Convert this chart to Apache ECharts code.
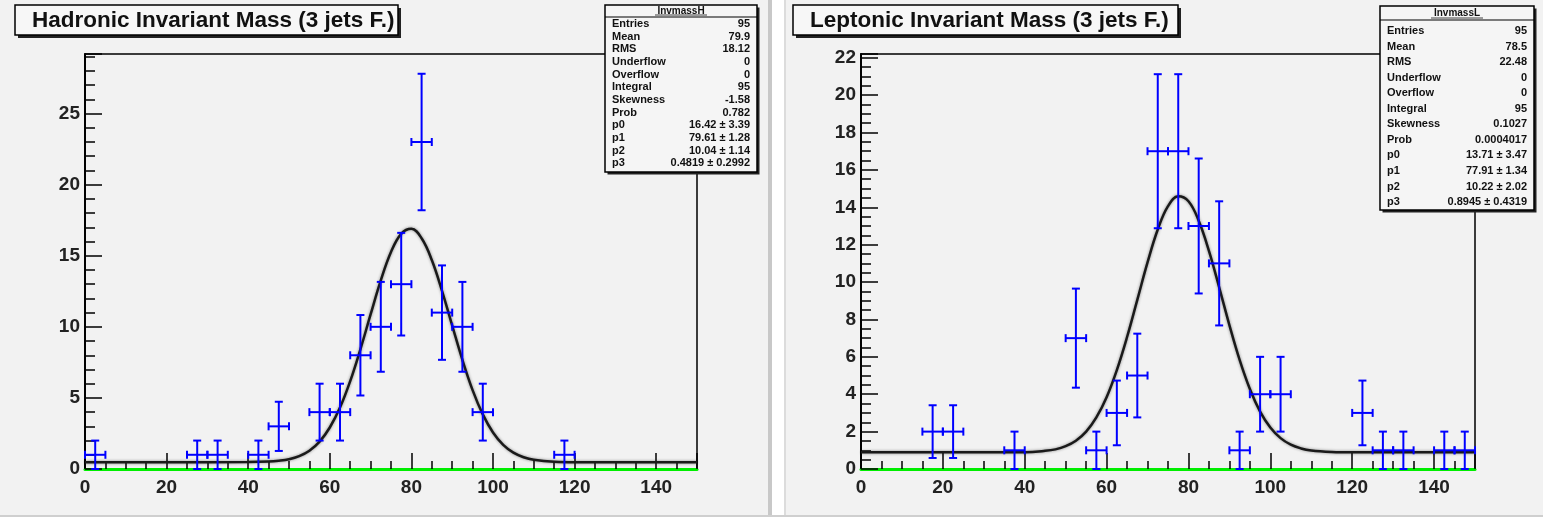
<!DOCTYPE html>
<html>
<head>
<meta charset="utf-8">
<title>Invariant Mass (3 jets F.)</title>
<script src="https://cdn.jsdelivr.net/npm/echarts@6/dist/echarts.min.js"></script>
<style>
  html, body { margin: 0; padding: 0; background: #f2f2f2; }
  #chart { width: 1543px; height: 519px; }
</style>
</head>
<body>
<div id="chart"></div>
<script>
// histogram bins are 5 wide, from 0 to 150
const binWidth = 5

// hadronic side
const hadBins = [2.5, 27.5, 32.5, 42.5, 47.5, 57.5, 62.5, 67.5, 72.5, 77.5, 82.5, 87.5, 92.5, 97.5, 117.5]
const hadCounts = [1, 1, 1, 1, 3, 4, 4, 8, 10, 13, 23, 11, 10, 4, 1]
const hadErrors = [1, 1, 1, 1, 1.73, 2, 2, 2.83, 3.16, 3.61, 4.8, 3.32, 3.16, 2, 1]

// leptonic side
const lepBins = [17.5, 22.5, 37.5, 52.5, 57.5, 62.5, 67.5, 72.5, 77.5, 82.5, 87.5, 92.5, 97.5, 102.5, 122.5, 127.5, 132.5, 142.5, 147.5]
const lepCounts = [2, 2, 1, 7, 1, 3, 5, 17, 17, 13, 11, 1, 4, 4, 3, 1, 1, 1, 1]
const lepErrors = [1.41, 1.41, 1, 2.65, 1, 1.73, 2.24, 4.12, 4.12, 3.61, 3.32, 1, 2, 2, 1.73, 1, 1, 1, 1]

// fitted curves, read along x
const fitX = [0, 20, 40, 45, 47.5, 50, 52.5, 55, 57.5, 60, 62.5, 65, 67.5, 70, 72.5, 75, 77.5, 80, 82.5, 85, 87.5, 90, 92.5, 95, 97.5, 100, 102.5, 105, 107.5, 110, 115, 120, 135, 150]
const hadFitY = [0.48, 0.48, 0.49, 0.52, 0.58, 0.69, 0.91, 1.29, 1.93, 2.92, 4.32, 6.18, 8.42, 10.87, 13.26, 15.26, 16.54, 16.89, 16.23, 14.7, 12.53, 10.09, 7.68, 5.55, 3.84, 2.57, 1.7, 1.15, 0.83, 0.65, 0.51, 0.48, 0.48, 0.48]
const lepFitY = [0.89, 0.89, 0.9, 0.97, 1.05, 1.22, 1.51, 2.0, 2.76, 3.84, 5.29, 7.06, 9.05, 11.05, 12.81, 14.06, 14.59, 14.32, 13.28, 11.67, 9.72, 7.7, 5.84, 4.28, 3.07, 2.22, 1.65, 1.3, 1.1, 0.99, 0.91, 0.89, 0.89, 0.89]

// axis ranges and ticks
const xTicks = [0, 150, 20]
const hadYTicks = [0, 29.19, 5]
const lepYTicks = [0, 22.2, 2]

// titles and stat boxes
const titles = ['Hadronic Invariant Mass (3 jets F.)', 'Leptonic Invariant Mass (3 jets F.)']
const statNames = ['InvmassH', 'InvmassL']
const statLabels = ['Entries', 'Mean', 'RMS', 'Underflow', 'Overflow', 'Integral', 'Skewness', 'Prob', 'p0', 'p1', 'p2', 'p3']
const hadStats = ['95', '79.9', '18.12', '0', '0', '95', '-1.58', '0.782', '16.42 ± 3.39', '79.61 ± 1.28', '10.04 ± 1.14', '0.4819 ± 0.2992']
const lepStats = ['95', '78.5', '22.48', '0', '0', '95', '0.1027', '0.0004017', '13.71 ± 3.47', '77.91 ± 1.34', '10.22 ± 2.02', '0.8945 ± 0.4319']

const font = 'Liberation Sans, Arial, Helvetica, sans-serif'

function renderErrorBar(params, api) {
  const x = api.value(0)
  const y = api.value(1)
  const err = api.value(2)
  const mid = api.coord([x, y])
  const left = api.coord([x - binWidth / 2, y])
  const right = api.coord([x + binWidth / 2, y])
  const top = api.coord([x, y + err])
  const bottom = api.coord([x, y - err])
  const cap = 4
  const seg = (x1, y1, x2, y2) => ({
    type: 'line',
    shape: { x1, y1, x2, y2 },
    style: { stroke: '#0000ff', lineWidth: 2 }
  })
  return {
    type: 'group',
    children: [
      seg(left[0], mid[1], right[0], mid[1]),
      seg(mid[0], top[1], mid[0], bottom[1]),
      seg(left[0], mid[1] - cap, left[0], mid[1] + cap),
      seg(right[0], mid[1] - cap, right[0], mid[1] + cap),
      seg(mid[0] - cap, top[1], mid[0] + cap, top[1]),
      seg(mid[0] - cap, bottom[1], mid[0] + cap, bottom[1])
    ]
  }
}

function xAxisFor(gridIndex) {
  return {
    type: 'value',
    gridIndex,
    min: xTicks[0],
    max: xTicks[1],
    interval: xTicks[2],
    axisLine: { onZero: false, lineStyle: { color: '#00ee00', width: 3 } },
    axisTick: { inside: true, length: 16, lineStyle: { color: '#000', width: 1.5 } },
    minorTick: { show: true, splitNumber: 4, length: 8, lineStyle: { color: '#000', width: 1.5 } },
    axisLabel: { margin: 9, color: '#222', fontSize: 19, fontWeight: 'bold', fontFamily: font, showMaxLabel: false },
    splitLine: { show: false }
  }
}

function yAxisFor(gridIndex, ticks, minorSplit) {
  return {
    type: 'value',
    gridIndex,
    min: ticks[0],
    max: ticks[1],
    interval: ticks[2],
    axisLine: { lineStyle: { color: '#000', width: 2 } },
    axisTick: { inside: true, length: 17, lineStyle: { color: '#000', width: 1.5 } },
    minorTick: { show: true, splitNumber: minorSplit, length: 10, lineStyle: { color: '#000', width: 1.5 } },
    axisLabel: { margin: 5, color: '#222', fontSize: 19, fontWeight: 'bold', fontFamily: font, showMaxLabel: false },
    splitLine: { show: false }
  }
}

function titleBox(x, w, text) {
  return {
    type: 'group',
    children: [
      { type: 'rect', shape: { x: x + 3, y: 8, width: w, height: 30 }, style: { fill: '#222' } },
      { type: 'rect', shape: { x, y: 5, width: w, height: 30 }, style: { fill: '#f7f7f7', stroke: '#000', lineWidth: 1.5 } },
      { type: 'text', x: x + 17, y: 21, style: { text, fill: '#111', font: 'bold 22.5px ' + font, verticalAlign: 'middle' } }
    ]
  }
}

function statBox(x, y, w, h, headerH, rowTop, rowStep, name, values) {
  const children = [
    { type: 'rect', shape: { x: x + 2.5, y: y + 2.5, width: w, height: h }, style: { fill: '#222' } },
    { type: 'rect', shape: { x, y, width: w, height: h }, style: { fill: '#f5f5f5', stroke: '#000', lineWidth: 1.5 } },
    { type: 'line', shape: { x1: x, y1: y + headerH, x2: x + w, y2: y + headerH }, style: { stroke: '#000', lineWidth: 1.2 } },
    { type: 'text', x: x + w / 2, y: y + headerH / 2, style: { text: name, fill: '#111', font: 'bold 10px ' + font, align: 'center', verticalAlign: 'middle' } },
    { type: 'line', shape: { x1: x + w / 2 - 26, y1: y + headerH - 2, x2: x + w / 2 + 26, y2: y + headerH - 2 }, style: { stroke: '#111', lineWidth: 0.8 } }
  ]
  statLabels.forEach((label, i) => {
    const ry = rowTop + i * rowStep
    children.push({ type: 'text', x: x + 7, y: ry, style: { text: label, fill: '#111', font: 'bold 11px ' + font, verticalAlign: 'middle' } })
    children.push({ type: 'text', x: x + w - 7, y: ry, style: { text: values[i], fill: '#111', font: 'bold 11px ' + font, align: 'right', verticalAlign: 'middle' } })
  })
  return { type: 'group', children }
}

const chart = echarts.init(document.getElementById('chart'))

chart.setOption({
  backgroundColor: '#f2f2f2',
  animation: false,
  grid: [
    { left: 85, top: 54, width: 612, height: 415, show: true, borderColor: '#000', borderWidth: 1.5, backgroundColor: 'transparent' },
    { left: 861, top: 54, width: 614, height: 415, show: true, borderColor: '#000', borderWidth: 1.5, backgroundColor: 'transparent' }
  ],
  xAxis: [xAxisFor(0), xAxisFor(1)],
  yAxis: [yAxisFor(0, hadYTicks, 5), yAxisFor(1, lepYTicks, 4)],
  series: [
    {
      type: 'line',
      xAxisIndex: 0,
      yAxisIndex: 0,
      data: fitX.map((x, i) => [x, hadFitY[i]]),
      smooth: 0.4,
      symbol: 'none',
      lineStyle: { color: '#1a1a1a', width: 2.5, shadowColor: 'rgba(0,0,0,0.45)', shadowBlur: 3 },
      z: 2
    },
    {
      type: 'line',
      xAxisIndex: 1,
      yAxisIndex: 1,
      data: fitX.map((x, i) => [x, lepFitY[i]]),
      smooth: 0.4,
      symbol: 'none',
      lineStyle: { color: '#1a1a1a', width: 2.5, shadowColor: 'rgba(0,0,0,0.45)', shadowBlur: 3 },
      z: 2
    },
    {
      type: 'custom',
      xAxisIndex: 0,
      yAxisIndex: 0,
      renderItem: renderErrorBar,
      data: hadBins.map((x, i) => [x, hadCounts[i], hadErrors[i]]),
      z: 3
    },
    {
      type: 'custom',
      xAxisIndex: 1,
      yAxisIndex: 1,
      renderItem: renderErrorBar,
      data: lepBins.map((x, i) => [x, lepCounts[i], lepErrors[i]]),
      z: 3
    }
  ],
  graphic: [
    // divider between the two pads
    { type: 'rect', shape: { x: 768, y: 0, width: 4, height: 519 }, style: { fill: '#c8c8c8' } },
    { type: 'rect', shape: { x: 772, y: 0, width: 12, height: 519 }, style: { fill: '#ffffff' } },
    { type: 'rect', shape: { x: 784, y: 0, width: 2, height: 519 }, style: { fill: '#dcdcdc' } },
    { type: 'rect', shape: { x: 0, y: 515, width: 1543, height: 2 }, style: { fill: '#cfcfcf' } },
    { type: 'rect', shape: { x: 0, y: 517, width: 1543, height: 2 }, style: { fill: '#ffffff' } },
    titleBox(15, 383, titles[0]),
    titleBox(793, 385, titles[1]),
    statBox(605, 5, 152, 167, 12, 24, 12.65, statNames[0], hadStats),
    statBox(1380, 6, 154, 204, 14, 31, 15.55, statNames[1], lepStats)
  ]
})
</script>
</body>
</html>
